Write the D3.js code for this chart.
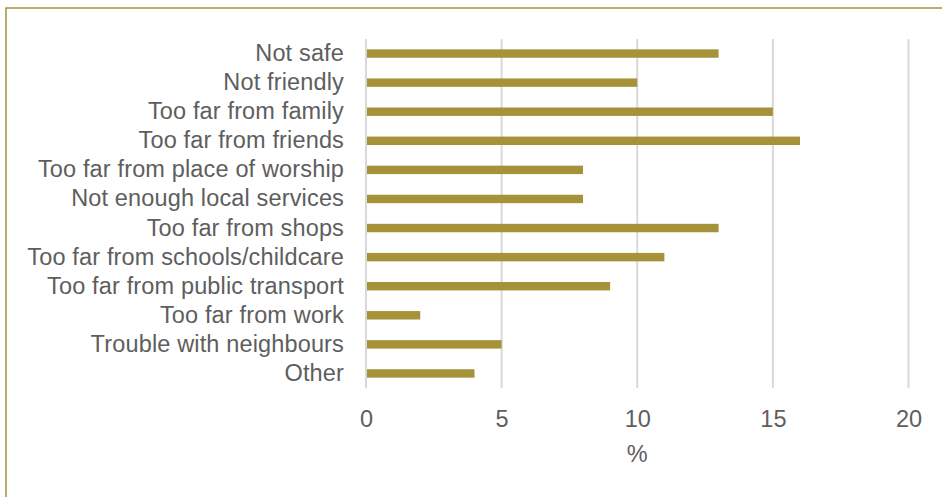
<!DOCTYPE html>
<html>
<head>
<meta charset="utf-8">
<script src="https://cdn.jsdelivr.net/npm/d3@7"></script>
<style>
  html, body { margin: 0; padding: 0; background: #fff; }
  svg { display: block; }
  text { font-family: "Liberation Sans", Arial, sans-serif; fill: #5e5e5e; }
</style>
</head>
<body>
<svg id="chart" width="942" height="497"></svg>
<script>
// Reasons given for dissatisfaction with the area (%)
const categories = [
  "Not safe",
  "Not friendly",
  "Too far from family",
  "Too far from friends",
  "Too far from place of worship",
  "Not enough local services",
  "Too far from shops",
  "Too far from schools/childcare",
  "Too far from public transport",
  "Too far from work",
  "Trouble with neighbours",
  "Other"
];
const values = [13, 10, 15, 16, 8, 8, 13, 11, 9, 2, 5, 4];
const tickValues = [0, 5, 10, 15, 20];
const axisTitle = "%";

const svg = d3.select("#chart");
const W = 942, H = 497;
const margin = { top: 39, right: 33, bottom: 109, left: 366 };
const innerW = 908.5 - margin.left;
const innerH = H - margin.top - margin.bottom;
const textColor = "#5e5e5e";

// Chart-area frame
svg.append("rect")
  .attr("x", 6).attr("y", 8)
  .attr("width", W + 10).attr("height", H + 10)
  .attr("fill", "#fff")
  .attr("stroke", "#a8913c")
  .attr("stroke-width", 1.5);

const g = svg.append("g").attr("transform", `translate(${margin.left},${margin.top})`);

const x = d3.scaleLinear().domain([0, 20]).range([0, innerW]);
const y = d3.scaleBand().domain(categories).range([0, innerH]).paddingInner(0.71).paddingOuter(0.355);

// Vertical gridlines
g.append("g")
  .selectAll("line")
  .data(tickValues)
  .join("line")
  .attr("x1", d => x(d)).attr("x2", d => x(d))
  .attr("y1", 0).attr("y2", innerH)
  .attr("stroke", "#d9d9d9")
  .attr("stroke-width", 2);

// Bars
g.append("g")
  .selectAll("rect")
  .data(values)
  .join("rect")
  .attr("x", x(0) + 1)
  .attr("y", (d, i) => y(categories[i]))
  .attr("width", d => x(d) - x(0) - 1)
  .attr("height", y.bandwidth())
  .attr("fill", "#a69239");

// Category labels
const yAxis = d3.axisLeft(y).tickSize(0).tickPadding(22);
g.append("g")
  .call(yAxis)
  .call(a => a.select(".domain").remove())
  .selectAll("text")
  .attr("font-size", "23.5px")
  .attr("letter-spacing", "0.15px")
  .attr("fill", textColor)
  .attr("font-family", "Liberation Sans, Arial, sans-serif");

// Value axis labels
const xAxis = d3.axisBottom(x).tickValues(tickValues).tickSize(0).tickPadding(22);
g.append("g")
  .attr("transform", `translate(0,${innerH})`)
  .call(xAxis)
  .call(a => a.select(".domain").remove())
  .selectAll("text")
  .attr("font-size", "23.5px")
  .attr("fill", textColor)
  .attr("font-family", "Liberation Sans, Arial, sans-serif");

// Axis title
svg.append("text")
  .attr("x", margin.left + x(10))
  .attr("y", 462)
  .attr("text-anchor", "middle")
  .attr("font-size", "23.5px")
  .attr("fill", textColor)
  .text(axisTitle);
</script>
</body>
</html>
